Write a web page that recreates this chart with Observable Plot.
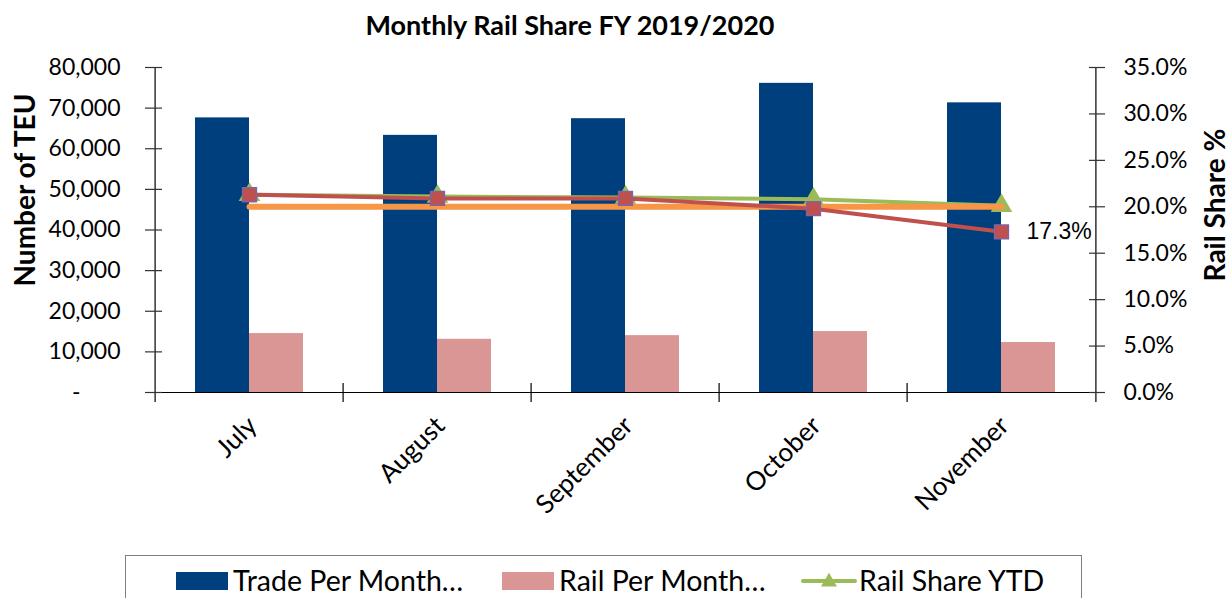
<!DOCTYPE html>
<html>
<head>
<meta charset="utf-8">
<script src="https://cdn.jsdelivr.net/npm/d3@7"></script>
<script src="https://cdn.jsdelivr.net/npm/@observablehq/plot@0.6"></script>
<style>
  html, body { margin: 0; padding: 0; background: #fff; }
  #wrap { position: relative; width: 1230px; height: 598px; overflow: hidden; font-family: Lato, "Open Sans", sans-serif; color: #000; }
  #chart { position: absolute; left: 0; top: 0; }
  #title { position: absolute; left: 0; width: 1140px; top: 9px; text-align: center; font-weight: bold; font-size: 27px; line-height: 32px; }
  .vlab { position: absolute; font-weight: bold; font-size: 28px; line-height: 32px; white-space: nowrap; transform: translate(-50%, -50%) rotate(-90deg); }
  #legend { position: absolute; left: 125px; top: 555px; width: 957px; height: 60px; border: 1.5px solid #7f7f7f; box-sizing: border-box; }
  .sw { position: absolute; }
  .lt { position: absolute; font-size: 28.5px; line-height: 32px; white-space: nowrap; }
</style>
</head>
<body>
<div id="wrap">
  <div id="chart"></div>
  <div id="title">Monthly Rail Share FY 2019/2020</div>
  <div class="vlab" id="ylab" style="left:24px; top:190px;">Number of TEU</div>
  <div class="vlab" id="y2lab" style="left:1214px; top:205px;">Rail Share %</div>
  <div id="legend"></div>
</div>
<script>
// ---- data ----
const months = ["July", "August", "September", "October", "November"];
const tradePerMonth = [67600, 63300, 67400, 76100, 71300];
const railPerMonth = [14500, 13100, 14000, 15000, 12300];
const railShareMonth = [21.3, 20.9, 20.9, 19.8, 17.3];   // %
const railShareYTD = [21.3, 21.1, 21.0, 20.8, 20.1];     // %
const targetShare = [20, 20, 20, 20, 20];                 // %
const leftTicks = [0, 10000, 20000, 30000, 40000, 50000, 60000, 70000, 80000];
const rightTicks = [0, 5, 10, 15, 20, 25, 30, 35];         // %
const legendLabels = ["Trade Per Month\u2026", "Rail Per Month\u2026", "Rail Share YTD"];
const lastLabel = "17.3%";

// ---- colours ----
const navy = "#003f7d", pink = "#d99694", red = "#c0504d", green = "#9bbb59", orange = "#f79646", purple = "#8064a2";

const W = 1230, H = 540, mL = 153, mR = 133, mT = 67, mB = H - 392;
const plotW = W - mL - mR, plotH = H - mT - mB;
const step = plotW / months.length;
const yMax = 80000, pMax = 35;
const k = yMax / pMax; // percent -> left units

const data = months.map((m, i) => ({
  month: m, trade: tradePerMonth[i], rail: railPerMonth[i],
  share: railShareMonth[i], ytd: railShareYTD[i], target: targetShare[i]
}));

const chart = Plot.plot({
  width: W, height: H,
  marginLeft: mL, marginRight: mR, marginTop: mT, marginBottom: mB,
  style: { fontFamily: "Lato, 'Open Sans', sans-serif", fontSize: "23px", color: "#000", background: "transparent", overflow: "visible" },
  x: { domain: months, paddingInner: 0.714, paddingOuter: 0.357, align: 0.5 },
  y: { domain: [0, yMax] },
  marks: [
    Plot.barY(data, { x: "month", y: "trade", fill: navy, dx: -27 }),
    Plot.barY(data, { x: "month", y: "rail", fill: pink, dx: 27 }),
    // axis lines
    Plot.ruleY([0], { stroke: "#000", strokeWidth: 1.2, insetLeft: -8, insetRight: -8 }),
    Plot.ruleX([months[0]], { dx: -step / 2, stroke: "#000", strokeWidth: 1.2, insetBottom: -10 }),
    Plot.ruleX([months[months.length - 1]], { dx: step / 2, stroke: "#000", strokeWidth: 1.2, insetBottom: -10 }),
    // x boundary ticks
    Plot.ruleX(months.slice(1), { dx: -step / 2, stroke: "#000", strokeWidth: 1.2, insetTop: plotH - 9, insetBottom: -10 }),
    // crossing y ticks
    Plot.ruleY(leftTicks, { stroke: "#333", strokeWidth: 1.2, insetLeft: -8, insetRight: plotW - 9 }),
    Plot.ruleY(rightTicks.map(p => p * k), { stroke: "#333", strokeWidth: 1.2, insetLeft: plotW - 8, insetRight: -8 }),
    // lines
    Plot.line(data, { x: "month", y: d => d.ytd * k, stroke: green, strokeWidth: 4 }),
    Plot.dot(data, { x: "month", y: d => d.ytd * k, symbol: "triangle", r: 8, fill: green, stroke: "none" }),
    Plot.line(data, { x: "month", y: d => d.target * k, stroke: orange, strokeWidth: 6, strokeLinecap: "round" }),
    Plot.line(data, { x: "month", y: d => d.share * k, stroke: red, strokeWidth: 4 }),
    Plot.dot(data, { x: "month", y: d => d.share * k, symbol: "square", r: 7.8, fill: red, stroke: purple, strokeWidth: 1.5 }),
    Plot.text([data[data.length - 1]], { x: "month", y: d => d.share * k, text: () => lastLabel, textAnchor: "start", dx: 25, fontSize: 23, fontFamily: "'Liberation Sans', Arial, sans-serif" }),
    // axes
    Plot.axisY({ anchor: "left", ticks: leftTicks, tickSize: 0, tickPadding: 33, label: null, fontSize: 23,
      tickFormat: d => d === 0 ? "-\u2007\u2007\u2007" : d3.format(",")(d) }),
    Plot.axisY({ anchor: "right", ticks: rightTicks.map(p => p * k), tickSize: 0, tickPadding: 26, label: null, fontSize: 23,
      tickFormat: d => (d / k).toFixed(1) + "%" }),
    Plot.axisX({ anchor: "bottom", tickSize: 0, tickRotate: -45, tickPadding: 29, dx: 3, label: null, fontSize: 26 })
  ]
});
document.getElementById("chart").appendChild(chart);

// ---- legend ----
const legend = document.getElementById("legend");
const L = 125, T = 555;
const items = [
  { kind: "rect", color: navy, sx: 175, tx: 232 },
  { kind: "rect", color: pink, sx: 501, tx: 558 },
  { kind: "line", color: green, sx: 800, tx: 858 }
];
items.forEach((it, i) => {
  if (it.kind === "rect") {
    const s = document.createElement("div");
    s.className = "sw";
    s.style.cssText = `left:${it.sx - L}px; top:${571 - T}px; width:52px; height:18px; background:${it.color};`;
    legend.appendChild(s);
  } else {
    const ns = "http://www.w3.org/2000/svg";
    const svg = document.createElementNS(ns, "svg");
    svg.setAttribute("width", 56); svg.setAttribute("height", 24);
    svg.style.cssText = `position:absolute; left:${it.sx - L}px; top:${568 - T}px;`;
    const ln = document.createElementNS(ns, "line");
    ln.setAttribute("x1", 2); ln.setAttribute("x2", 54); ln.setAttribute("y1", 12); ln.setAttribute("y2", 12);
    ln.setAttribute("stroke", it.color); ln.setAttribute("stroke-width", 4); ln.setAttribute("stroke-linecap", "round");
    svg.appendChild(ln);
    const tri = document.createElementNS(ns, "path");
    tri.setAttribute("d", d3.symbol(d3.symbolTriangle, 110)());
    tri.setAttribute("transform", "translate(28,13)");
    tri.setAttribute("fill", it.color);
    svg.appendChild(tri);
    legend.appendChild(svg);
  }
  const t = document.createElement("div");
  t.className = "lt";
  t.textContent = legendLabels[i];
  t.style.left = (it.tx - L) + "px";
  t.style.top = (563 - T) + "px";
  legend.appendChild(t);
});
</script>
</body>
</html>
